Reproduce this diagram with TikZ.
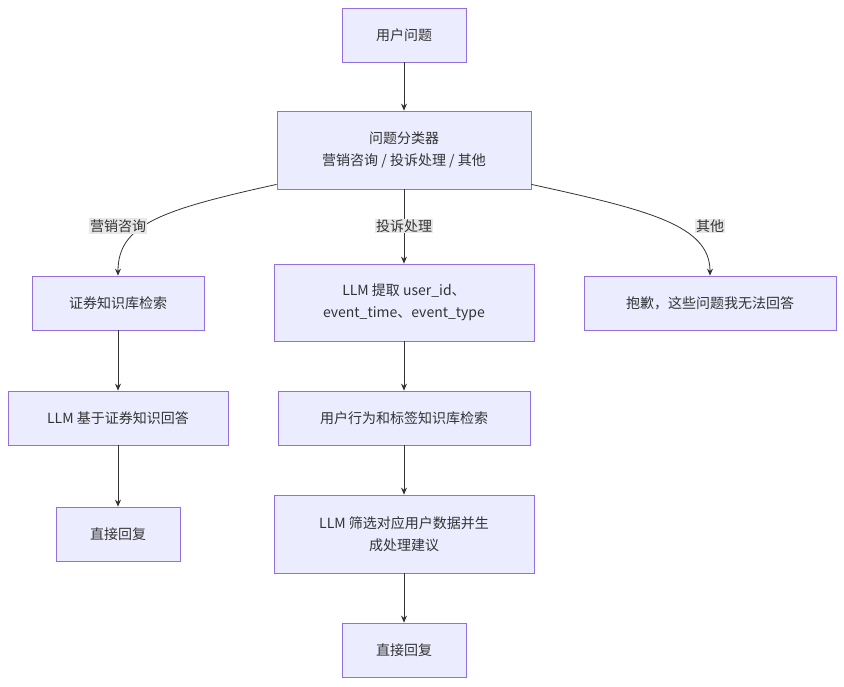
\documentclass[tikz,border=0pt]{standalone}
\usepackage{fontspec}
\setmainfont{Noto Sans CJK SC}
\usetikzlibrary{arrows.meta}
\definecolor{boxfill}{HTML}{ECECFF}
\definecolor{boxline}{HTML}{9370DB}
\definecolor{edgeline}{HTML}{333333}
\definecolor{lblfill}{HTML}{E8E8E8}
\begin{document}
\begin{tikzpicture}[x=1pt,y=-1pt,
    box/.style={draw=boxline,fill=boxfill,line width=0.8pt,align=center,
      inner sep=0pt,font=\fontsize{14}{22}\selectfont,text=edgeline},
    link/.style={draw=edgeline,line width=0.8pt,-{Stealth[length=7pt,width=6pt]}},
    lbl/.style={fill=lblfill,inner sep=1pt,font=\fontsize{14}{18}\selectfont,text=edgeline}]
                    \useasboundingbox (0,0) rectangle (844,686);
                    \node[box,minimum width=124,minimum height=54] (q) at (404,35) {用户问题};
                    \node[box,minimum width=254,minimum height=78] (cls) at (404,150) {问题分类器\\营销咨询 / 投诉处理 / 其他};
                    \node[box,minimum width=172,minimum height=54] (kb) at (118,303) {证券知识库检索};
                    \node[box,minimum width=260,minimum height=77] (ext) at (404,302.5) {LLM 提取 user\_id、\\event\_time、event\_type};
                    \node[box,minimum width=252,minimum height=54] (sorry) at (710,303) {抱歉，这些问题我无法回答};
                    \node[box,minimum width=220,minimum height=54] (llm) at (118,418) {LLM 基于证券知识回答};
                    \node[box,minimum width=252,minimum height=54] (beh) at (404,418) {用户行为和标签知识库检索};
                    \node[box,minimum width=124,minimum height=54] (rep1) at (118,534) {直接回复};
                    \node[box,minimum width=260,minimum height=78] (filt) at (404,534) {LLM 筛选对应用户数据并生\\成处理建议};
                    \node[box,minimum width=124,minimum height=54] (rep2) at (404,650) {直接回复};

                    \draw[link] (q) -- (cls);
                    \draw[link] (cls.south west) ++(0,-5) coordinate (cl)
                      (cl) .. controls (160,210) and (118,225) .. (kb.north);
                    \draw[link] (cls.south east) ++(0,-5) coordinate (cr)
                      (cr) .. controls (648,210) and (710,225) .. (sorry.north);
                    \draw[link] (cls) -- (ext);
                    \draw[link] (kb) -- (llm);
                    \draw[link] (llm) -- (rep1);
                    \draw[link] (ext) -- (beh);
                    \draw[link] (beh) -- (filt);
                    \draw[link] (filt) -- (rep2);

                    \node[lbl] (l1) at (118,226) {营销咨询};
                    \node[lbl] (l2) at (404,226) {投诉处理};
                    \node[lbl] (l3) at (710,226) {其他};
                \end{tikzpicture}
\end{document}
